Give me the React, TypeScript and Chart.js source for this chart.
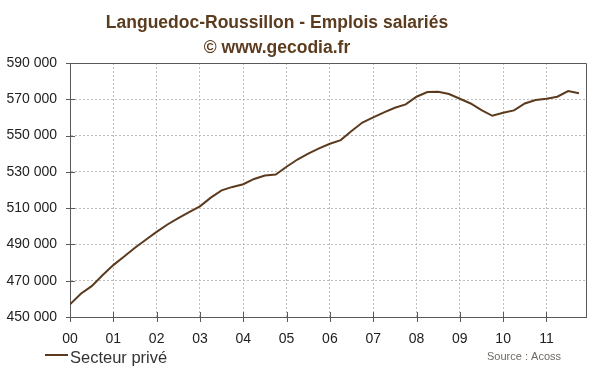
import React, { useEffect, useRef } from "react";
import { Chart, registerables } from "chart.js";

Chart.register(...registerables);

// ---- Data ----
const TITLE_LINES = ["Languedoc-Roussillon - Emplois salariés", "© www.gecodia.fr"];
const YEAR_LABELS = ["00", "01", "02", "03", "04", "05", "06", "07", "08", "09", "10", "11"];
const SERIES_LABEL = "Secteur privé";
const SOURCE_TEXT = "Source : Acoss";
// Quarterly employment, Q1 2000 .. Q4 2011
const EMPLOYMENT = [
  457000, 462800, 467000, 473000,
  478600, 483300, 488200, 492600,
  496900, 501000, 504500, 507800,
  511000, 515800, 519800, 521700,
  523200, 526100, 528000, 528500,
  532800, 536800, 540100, 542900,
  545500, 547500, 552500, 557200,
  560000, 562800, 565300, 567200,
  571400, 574000, 574100, 572900,
  570300, 567700, 564000, 560900,
  562600, 563900, 567700, 569600,
  570300, 571400, 574500, 573300,
];
const Y_MIN = 450000;
const Y_MAX = 590000;
const Y_STEP = 20000;
const QUARTERS_PER_YEAR = 4;
const X_MAX = 47.65;

const LINE_COLOR = "#5b3a1e";
const TITLE_COLOR = "#5b3c1f";
const AXIS_COLOR = "#5a5a5a";
const GRID_COLOR = "#bdbdbd";
const FONT = "Arial, 'Liberation Sans', sans-serif";

function fmtThousands(v: number): string {
  return String(Math.round(v)).replace(/\B(?=(\d{3})+(?!\d))/g, " ");
}

const decorPlugin = {
  id: "decor",
  afterDraw(chart: any) {
    const { ctx, chartArea } = chart;
    const { left, right, top, bottom } = chartArea;
    ctx.save();
    // box top & right
    ctx.strokeStyle = AXIS_COLOR;
    ctx.lineWidth = 1;
    ctx.setLineDash([]);
    ctx.beginPath();
    ctx.moveTo(left, top + 0.5);
    ctx.lineTo(right + 0.5, top + 0.5);
    ctx.lineTo(right + 0.5, bottom);
    ctx.stroke();
    // tick marks crossing axes
    const xs = chart.scales.x;
    const ys = chart.scales.y;
    ctx.beginPath();
    xs.ticks.forEach((t: any) => {
      const px = Math.round(xs.getPixelForValue(t.value)) + 0.5;
      ctx.moveTo(px, bottom - 5);
      ctx.lineTo(px, bottom + 5);
    });
    ys.ticks.forEach((t: any) => {
      const py = Math.round(ys.getPixelForValue(t.value)) + 0.5;
      ctx.moveTo(left - 4, py);
      ctx.lineTo(left + 5, py);
    });
    ctx.stroke();

    // titles
    ctx.fillStyle = TITLE_COLOR;
    ctx.textAlign = "center";
    ctx.textBaseline = "alphabetic";
    ctx.font = `bold 17.5px ${FONT}`;
    ctx.fillText(TITLE_LINES[0], 277, 28);
    ctx.fillText(TITLE_LINES[1], 277, 53);

    // legend
    const ds = chart.data.datasets[0];
    ctx.strokeStyle = ds.borderColor;
    ctx.lineWidth = 2;
    ctx.beginPath();
    ctx.moveTo(45, 355);
    ctx.lineTo(68, 355);
    ctx.stroke();
    ctx.fillStyle = "#333333";
    ctx.textAlign = "left";
    ctx.font = `16.5px ${FONT}`;
    ctx.fillText(ds.label, 70, 363);

    // source
    ctx.fillStyle = "#6e6a66";
    ctx.textAlign = "right";
    ctx.font = `11px 'Liberation Sans Narrow', ${FONT}`;
    ctx.fillText(SOURCE_TEXT, 561, 360);
    ctx.restore();
  },
};

export default function App() {
  const canvasRef = useRef<HTMLCanvasElement | null>(null);

  useEffect(() => {
    const canvas = canvasRef.current;
    if (!canvas) return;
    const chart = new Chart(canvas, {
      type: "line",
      data: {
        datasets: [
          {
            label: SERIES_LABEL,
            data: EMPLOYMENT.map((v, i) => ({ x: i, y: v })),
            borderColor: LINE_COLOR,
            backgroundColor: LINE_COLOR,
            borderWidth: 2,
            pointRadius: 0,
            tension: 0,
            fill: false,
          },
        ],
      },
      options: {
        responsive: false,
        animation: false,
        devicePixelRatio: 1,
        layout: { padding: { top: 63, right: 14, left: 0, bottom: 0 } },
        plugins: {
          legend: { display: false },
          title: { display: false },
          tooltip: { enabled: false },
        },
        scales: {
          x: {
            type: "linear",
            min: 0,
            max: X_MAX,
            afterBuildTicks: (scale: any) => {
              scale.ticks = YEAR_LABELS.map((_, i) => ({ value: i * QUARTERS_PER_YEAR }));
            },
            afterFit: (scale: any) => {
              scale.height = 55;
            },
            ticks: {
              autoSkip: false,
              maxRotation: 0,
              padding: 14,
              color: "#222222",
              font: { family: FONT, size: 14 },
              callback: (value: any) => YEAR_LABELS[Math.round(Number(value) / QUARTERS_PER_YEAR)] ?? "",
            },
            grid: {
              color: GRID_COLOR,
              lineWidth: 1,
              drawTicks: false,
            },
            border: { display: true, color: AXIS_COLOR, width: 1, dash: [2, 2] },
          },
          y: {
            type: "linear",
            min: Y_MIN,
            max: Y_MAX,
            afterFit: (scale: any) => {
              scale.width = 70;
            },
            ticks: {
              stepSize: Y_STEP,
              padding: 13,
              color: "#222222",
              font: { family: FONT, size: 14 },
              callback: (value: any) => fmtThousands(Number(value)),
            },
            grid: {
              color: GRID_COLOR,
              lineWidth: 1,
              drawTicks: false,
            },
            border: { display: true, color: AXIS_COLOR, width: 1, dash: [2, 2] },
          },
        },
      },
      plugins: [decorPlugin],
    });
    return () => chart.destroy();
  }, []);

  return (
    <div style={{ position: "absolute", left: 0, top: 0, width: 600, height: 372, background: "#ffffff" }}>
      <canvas ref={canvasRef} width={600} height={372} style={{ display: "block" }} />
    </div>
  );
}
